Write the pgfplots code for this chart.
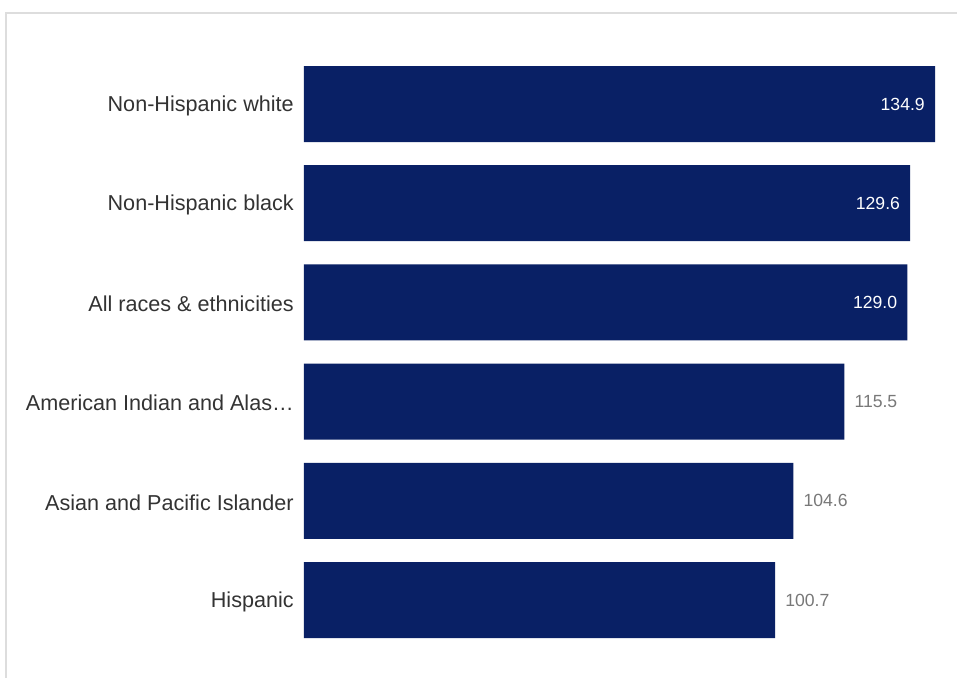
\documentclass[border=0pt]{standalone}
\usepackage{fontspec}
\setmainfont{Liberation Sans}
\usepackage{pgfplots}
\pgfplotsset{compat=1.18}
\definecolor{barnavy}{RGB}{9,32,101}
\definecolor{labgray}{RGB}{51,51,51}
\definecolor{valgray}{RGB}{120,120,120}
\definecolor{framegray}{RGB}{221,221,221}
\begin{document}
\begin{tikzpicture}
\fill[white] (0,0) rectangle (717.75pt,-508.5pt);
\draw[framegray, line width=1pt] (4.5pt,-508.5pt) -- (4.5pt,-9.75pt) -- (717.75pt,-9.75pt);
\begin{axis}[
  at={(228pt,-40.8pt)}, anchor=north west,
  scale only axis,
  width=473.6pt, height=446.4pt,
  xmin=0, xmax=135,
  ymin=0.5, ymax=6.5,
  y dir=reverse,
  xbar, bar width=57pt, bar shift=0pt,
  axis line style={draw=none},
  xtick=\empty,
  ytick={1,2,3,4,5,6},
  yticklabels={Non-Hispanic white,Non-Hispanic black,All races \& ethnicities,American Indian and Alas…,Asian and Pacific Islander,Hispanic},
  major tick length=0pt,
  yticklabel style={font=\fontsize{16.2}{19}\selectfont, text=labgray, inner sep=0pt, xshift=-7.5pt, yshift=-1.2pt},
  point meta=explicit symbolic,
  clip=false,
]
\addplot[draw=none, fill=barnavy,
  nodes near coords={\pgfplotspointmeta},
  nodes near coords style={anchor=east, inner sep=0pt, xshift=-7.5pt, text=white, font=\fontsize{13.2}{15}\selectfont}]
  coordinates {(134.9,1) [134.9] (129.6,2) [129.6] (129.0,3) [129.0]};
\addplot[draw=none, fill=barnavy,
  nodes near coords={\pgfplotspointmeta},
  nodes near coords style={anchor=west, inner sep=0pt, xshift=7.5pt, text=valgray, font=\fontsize{13.2}{15}\selectfont}]
  coordinates {(115.5,4) [115.5] (104.6,5) [104.6] (100.7,6) [100.7]};
\end{axis}
\pgfresetboundingbox
\path (0,0) rectangle (717.75pt,-508.5pt);
\end{tikzpicture}
\end{document}
